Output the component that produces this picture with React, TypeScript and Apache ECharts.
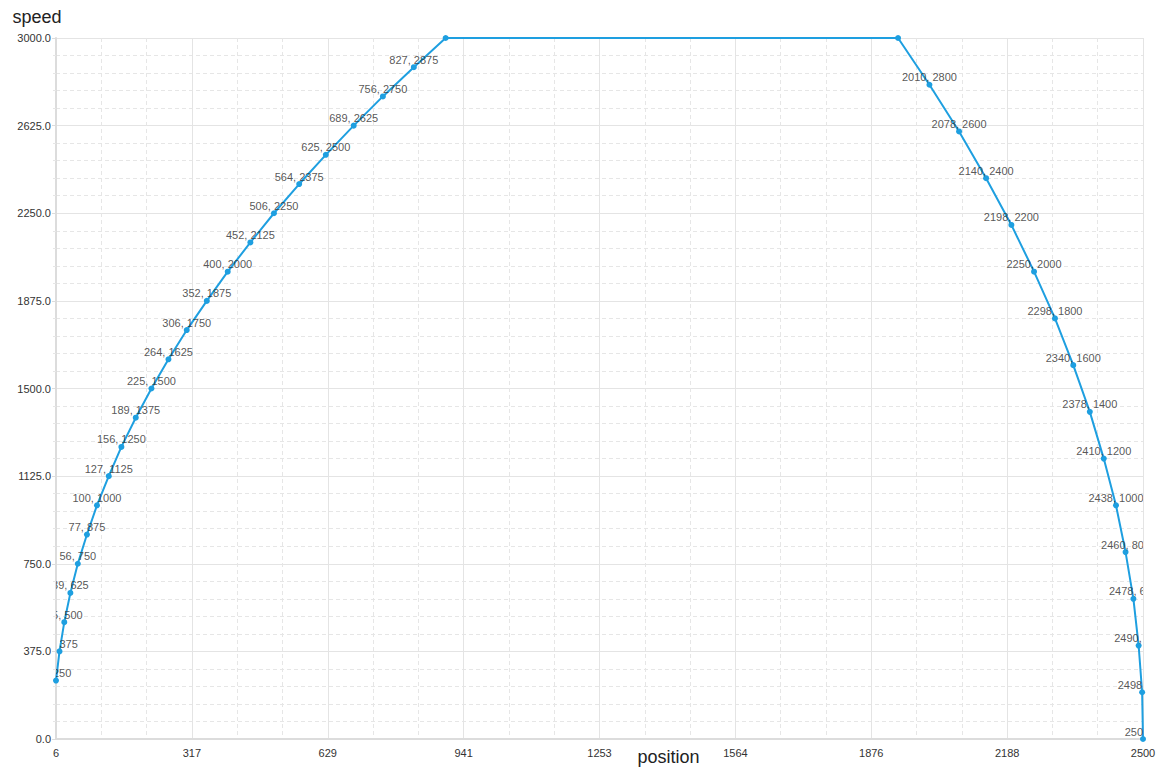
import React, { useEffect, useRef } from "react";
import * as echarts from "echarts";

// acceleration phase (position, speed)
const accelPositions = [6, 14, 25, 39, 56, 77, 100, 127, 156, 189, 225, 264, 306, 352, 400, 452, 506, 564, 625, 689, 756, 827, 900];
const accelSpeeds = [250, 375, 500, 625, 750, 875, 1000, 1125, 1250, 1375, 1500, 1625, 1750, 1875, 2000, 2125, 2250, 2375, 2500, 2625, 2750, 2875, 3000];
// deceleration phase (position, speed)
const decelPositions = [1938, 2010, 2078, 2140, 2198, 2250, 2298, 2340, 2378, 2410, 2438, 2460, 2478, 2490, 2498, 2500];
const decelSpeeds = [3000, 2800, 2600, 2400, 2200, 2000, 1800, 1600, 1400, 1200, 1000, 800, 600, 400, 200, 0];

const xTickLabels = ["6", "317", "629", "941", "1253", "1564", "1876", "2188", "2500"];
const xMin = 6;
const xMax = 2500;
const yMin = 0;
const yMax = 3000;
const yInterval = 375;

const FONT = "'Liberation Sans', Arial, sans-serif";
const LINE_COLOR = "#1e9fe0";
const GRID = { left: 56, right: 28, top: 38, bottom: 38, outerBoundsMode: "none", containLabel: false };

const points: [number, number][] = [
  ...accelPositions.map((p, i) => [p, accelSpeeds[i]] as [number, number]),
  ...decelPositions.map((p, i) => [p, decelSpeeds[i]] as [number, number]),
];

function axes(visible: boolean) {
  const xInterval = (xMax - xMin) / (xTickLabels.length - 1);
  return {
    xAxis: {
      type: "value",
      show: visible,
      min: xMin,
      max: xMax,
      interval: xInterval,
      name: visible ? "position" : "",
      nameLocation: "middle",
      nameGap: 9,
      nameMoveOverlap: false,
      nameTextStyle: { fontFamily: FONT, fontSize: 18, color: "#222", padding: [0, 0, 0, 138] },
      axisLine: { show: true, lineStyle: { color: "#dcdcdc", width: 2 } },
      axisTick: { show: false },
      axisLabel: {
        show: visible,
        fontFamily: FONT,
        fontSize: 11,
        color: "#333",
        margin: 8,
        formatter: (v: number) => {
          const idx = Math.round((v - xMin) / xInterval);
          return xTickLabels[idx] ?? String(Math.floor(v));
        },
      },
      splitLine: { show: true, lineStyle: { color: "#e4e4e4", width: 1 } },
      minorTick: { show: false, splitNumber: 3 },
      minorSplitLine: { show: true, lineStyle: { color: "#e6e6e6", width: 1, type: [4, 3] } },
    },
    yAxis: {
      type: "value",
      show: visible,
      min: yMin,
      max: yMax,
      interval: yInterval,
      name: visible ? "speed" : "",
      nameLocation: "end",
      nameGap: 12,
      nameMoveOverlap: false,
      nameTextStyle: { fontFamily: FONT, fontSize: 18, color: "#222", padding: [0, 38, 0, 0] },
      axisLine: { show: true, lineStyle: { color: "#dcdcdc", width: 2 } },
      axisTick: { show: true, length: 4, lineStyle: { color: "#dcdcdc" } },
      axisLabel: {
        show: visible,
        fontFamily: FONT,
        fontSize: 11,
        color: "#333",
        margin: 5,
        formatter: (v: number) => v.toFixed(1),
      },
      splitLine: { show: true, lineStyle: { color: "#e4e4e4", width: 1 } },
      minorTick: { show: true, splitNumber: 5, length: 3, lineStyle: { color: "#e6e6e6" } },
      minorSplitLine: { show: true, lineStyle: { color: "#e6e6e6", width: 1, type: [4, 3] } },
    },
  };
}

export default function App() {
  const mainRef = useRef<HTMLDivElement>(null);
  const labelRef = useRef<HTMLDivElement>(null);

  useEffect(() => {
    if (!mainRef.current || !labelRef.current) return;
    const main = echarts.init(mainRef.current, undefined, { renderer: "svg" });
    const labels = echarts.init(labelRef.current, undefined, { renderer: "svg" });

    main.setOption({
      animation: false,
      backgroundColor: "#ffffff",
      grid: GRID,
      ...axes(true),
      series: [
        {
          type: "line",
          data: points,
          clip: false,
          symbol: "circle",
          symbolSize: 6,
          lineStyle: { color: LINE_COLOR, width: 2 },
          itemStyle: { color: LINE_COLOR },
          label: { show: false },
          z: 3,
        },
      ],
    });

    labels.setOption({
      animation: false,
      grid: GRID,
      ...axes(false),
      series: [
        {
          type: "scatter",
          data: points,
          symbol: "circle",
          symbolSize: 6,
          itemStyle: { color: "rgba(0,0,0,0)" },
          label: {
            show: true,
            position: "top",
            distance: 0,
            offset: [0, 1],
            fontFamily: FONT,
            fontSize: 11,
            color: "#2b2b2b",
            formatter: (p: any) => `${p.value[0]}, ${p.value[1]}`,
          },
        },
      ],
    });

    return () => {
      main.dispose();
      labels.dispose();
    };
  }, []);

  const clip = `inset(${GRID.top}px ${GRID.right}px ${GRID.bottom}px ${GRID.left}px)`;

  return (
    <div style={{ position: "fixed", left: 0, top: 0, width: 1171, height: 777 }}>
      <div ref={mainRef} style={{ position: "absolute", left: 0, top: 0, width: 1171, height: 777 }} />
      <div
        ref={labelRef}
        style={{
          position: "absolute",
          left: 0,
          top: 0,
          width: 1171,
          height: 777,
          clipPath: clip,
          pointerEvents: "none",
        }}
      />
    </div>
  );
}
